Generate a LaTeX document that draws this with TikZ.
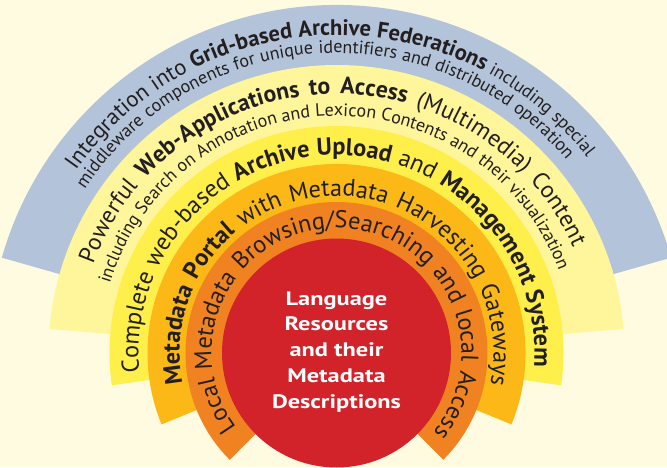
\documentclass[tikz,border=0pt]{standalone}
\usepackage{fontspec}
\setmainfont{PT Sans}
\newfontfamily\widefont[FakeStretch=1.25]{PT Sans}
\usetikzlibrary{decorations.text}
\definecolor{bg}{HTML}{FEFBE1}
\definecolor{ringblue}{HTML}{B3C3D9}
\definecolor{ringpale}{HTML}{FFF59B}
\definecolor{ringyellow}{HTML}{FFEF4A}
\definecolor{ringgold}{HTML}{FBB817}
\definecolor{ringorange}{HTML}{F08222}
\definecolor{corered}{HTML}{D2232A}
\definecolor{ink}{HTML}{231F20}
\newcommand\fsOne{\fontsize{22.5}{24}\selectfont}
\newcommand\fsTwo{\fontsize{18}{20}\selectfont}
\newcommand\fsThree{\fontsize{23.7}{26}\selectfont}
\newcommand\fsFour{\fontsize{18}{20}\selectfont}
\newcommand\fsFive{\fontsize{24.3}{27}\selectfont}
\newcommand\fsSix{\fontsize{24.2}{26}\selectfont}
\newcommand\fsSeven{\fontsize{24.3}{26}\selectfont}
% #1 start angle, #2 end angle, #3 baseline radius, #4 text
\newcommand\arctext[4]{%
  \path[shift={(336.5,114)}, decorate,
    decoration={text along path, text align={fit to path stretching spaces},
      text color=ink, text={#4}}]
    (#1:#3) arc[start angle=#1, end angle=#2, radius=#3];}
\tikzset{
  sector/.style={fill=#1},
  coretext/.style={text=white, font=\widefont\bfseries\fontsize{19.5}{22}\selectfont,
    anchor=base, inner sep=0pt},
}
\begin{document}
\begin{tikzpicture}[x=1pt,y=1pt]
\useasboundingbox (0,0) rectangle (667,467);
\fill[bg] (0,0) rectangle (667,467);
\clip (0,0) rectangle (667,467);
\coordinate (C) at (336.5,114);
% rings (pie sectors, outer first)
\fill[sector=ringblue]   (C) -- ++(15.9:348) arc[start angle=15.9, end angle=164.1, radius=348] -- cycle;
\fill[sector=ringpale]   (C) -- ++(4.8:288) arc[start angle=4.8, end angle=175.2, radius=288] -- cycle;
\fill[sector=ringyellow] (C) -- ++(-8.2:227) arc[start angle=-8.2, end angle=188.2, radius=227] -- cycle;
\fill[sector=ringgold]   (C) -- ++(-22.2:189) arc[start angle=-22.2, end angle=202.2, radius=189] -- cycle;
\fill[sector=ringorange] (C) -- ++(-45:151) arc[start angle=-45, end angle=225, radius=151] -- cycle;
\fill[corered] (C) circle[radius=114.5];
% arc texts
\arctext{145}{38}{318}{|\fsOne|Integration into |\fsOne\bfseries|Grid-based Archive Federations|\fsTwo| including special}
\arctext{147}{40}{300}{|\fsTwo|middleware components for unique identifiers and distributed operation}
\arctext{160}{24}{259}{|\fsThree|Powerful |\fsThree\bfseries|Web-Applications to Access|\fsThree| (Multimedia) Content}
\arctext{163}{20.5}{237}{|\fsFour|including Search on Annotation and Lexicon Contents and their visualization}
\arctext{185.7}{-4}{198}{|\fsFive|Complete web-based |\fsFive\bfseries|Archive Upload|\fsFive| and |\fsFive\bfseries|Management System}
\arctext{191.3}{-11.5}{157}{|\fsSix\bfseries|Metadata Portal|\fsSix| with Metadata Harvesting Gateways}
\arctext{216.6}{-39.4}{125}{|\fsSeven|Local Metadata Browsing/Searching and local Access}
% core text
\node[coretext] (core1) at (336.5,162) {Language};
\node[coretext] (core2) at (336.5,136.3) {Resources};
\node[coretext] (core3) at (336.5,111) {and their};
\node[coretext] (core4) at (336.5,84.3) {Metadata};
\node[coretext] (core5) at (336.5,58.7) {Descriptions};
\end{tikzpicture}
\end{document}
